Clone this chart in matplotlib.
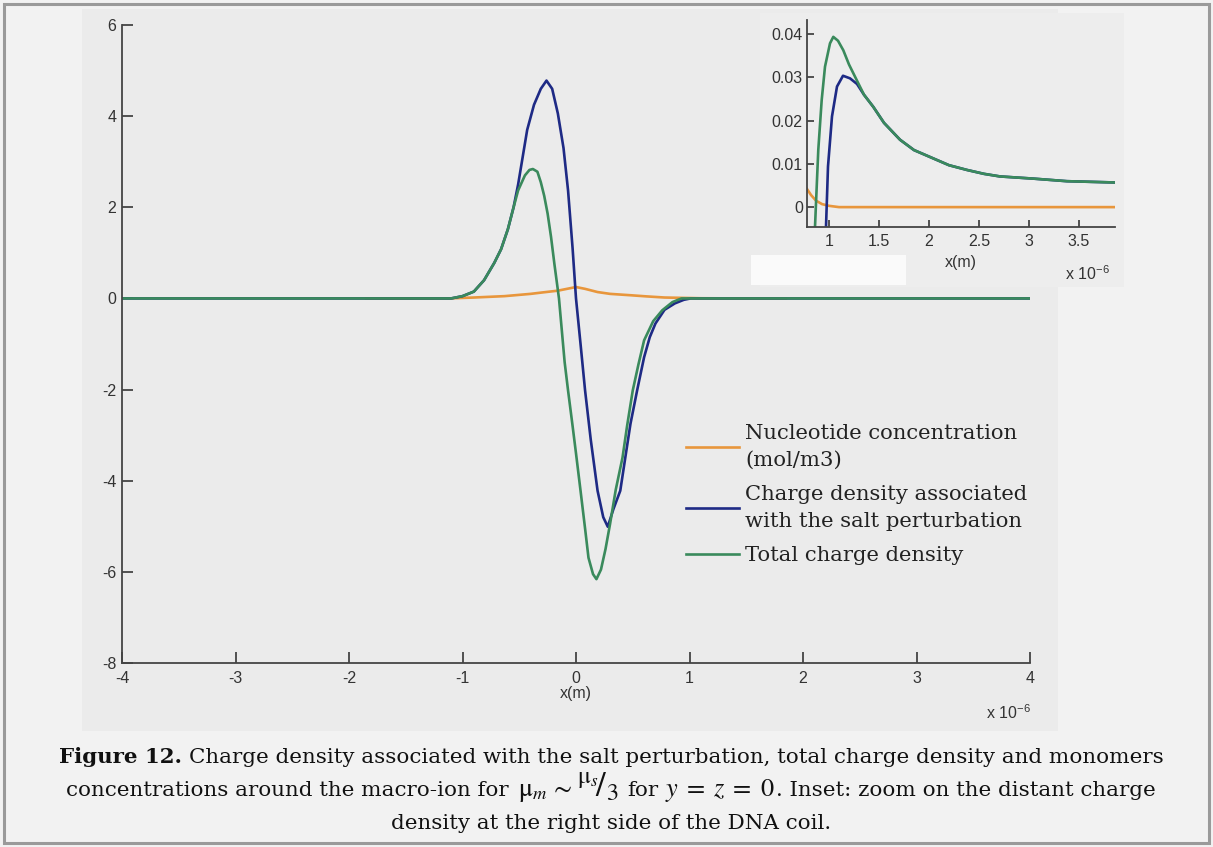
import matplotlib
matplotlib.use("Agg")
import matplotlib.pyplot as plt
from matplotlib.patches import Rectangle

plt.rcParams['axes.unicode_minus'] = False
plt.rcParams['mathtext.fontset'] = 'stix'

# main plot (x in units of 1e-6 m)
x_nuc = [-1.85, -1.5, -1.1, -0.9, -0.63, -0.4, -0.3, -0.16, -0.08, 0.0, 0.08,
         0.19, 0.3, 0.48, 0.62, 0.78, 1.1, 1.5, 1.85]
nuc = [0, 0, 0.002, 0.02, 0.05, 0.1, 0.13, 0.17, 0.21, 0.25, 0.21,
       0.14, 0.1, 0.07, 0.045, 0.02, 0.004, 0, 0]

x_salt = [-4, -1.1, -1.0, -0.9, -0.81, -0.72, -0.66, -0.6, -0.55, -0.51, -0.47,
          -0.43, -0.37, -0.31, -0.26, -0.21, -0.16, -0.11, -0.07, -0.03, 0.0,
          0.04, 0.08, 0.13, 0.19, 0.24, 0.28, 0.33, 0.39, 0.44, 0.48, 0.54,
          0.6, 0.65, 0.7, 0.78, 0.87, 0.95, 1.01, 4]
salt = [0, 0, 0.05, 0.15, 0.4, 0.78, 1.08, 1.52, 2.0, 2.5, 3.1,
        3.7, 4.25, 4.6, 4.78, 4.6, 4.06, 3.3, 2.37, 1.1, 0.0,
        -1.0, -2.02, -3.1, -4.22, -4.8, -5.01, -4.62, -4.22, -3.4, -2.75, -2.0,
        -1.29, -0.85, -0.55, -0.25, -0.11, -0.03, 0, 0]

x_tot = [-4, -1.1, -1.0, -0.9, -0.81, -0.72, -0.66, -0.6, -0.55, -0.51, -0.45,
         -0.41, -0.38, -0.34, -0.31, -0.28, -0.25, -0.22, -0.19, -0.15, -0.1,
         -0.07, -0.03, 0.0, 0.04, 0.08, 0.11, 0.15, 0.18, 0.22, 0.26, 0.3,
         0.35, 0.41, 0.45, 0.5, 0.55, 0.6, 0.68, 0.76, 0.85, 0.93, 4]
tot = [0, 0, 0.05, 0.15, 0.4, 0.78, 1.08, 1.52, 2.0, 2.37, 2.7,
       2.82, 2.84, 2.78, 2.55, 2.25, 1.86, 1.35, 0.75, 0.0, -1.4,
       -2.02, -2.8, -3.4, -4.22, -5.05, -5.69, -6.05, -6.16, -5.95, -5.5, -4.95,
       -4.2, -3.49, -2.8, -2.02, -1.45, -0.92, -0.5, -0.26, -0.08, 0.0, 0]

# inset
xi_nuc = [0.78, 0.82, 0.87, 0.93, 1.0, 1.1, 3.86]
yi_nuc = [0.0042, 0.0028, 0.0015, 0.0007, 0.0003, 0.0, 0.0]

xi_salt = [0.96, 0.97, 0.99, 1.03, 1.08, 1.14, 1.21, 1.28, 1.35, 1.443, 1.55,
           1.71, 1.85, 2.04, 2.2, 2.38, 2.55, 2.71, 3.04, 3.38, 3.86]
yi_salt = [-0.01, -0.0046, 0.0094, 0.021, 0.0279, 0.0304, 0.0298, 0.0285, 0.026,
           0.0232, 0.0195, 0.0156, 0.0132, 0.0113, 0.0097, 0.0086, 0.0077,
           0.0071, 0.0066, 0.006, 0.0057]

xi_tot = [0.85, 0.86, 0.877, 0.893, 0.927, 0.96, 1.01, 1.043, 1.09, 1.143, 1.2,
          1.277, 1.35, 1.443, 1.55, 1.71, 1.85, 2.04, 2.2, 2.38, 2.55, 2.71,
          3.04, 3.38, 3.86]
yi_tot = [-0.01, -0.0046, 0.0047, 0.0133, 0.0248, 0.0325, 0.0379, 0.0394, 0.0385,
          0.0363, 0.033, 0.0294, 0.026, 0.0232, 0.0195, 0.0156, 0.0132, 0.0113,
          0.0097, 0.0086, 0.0077, 0.0071, 0.0066, 0.006, 0.0057]

main_xticks = [-4, -3, -2, -1, 0, 1, 2, 3, 4]
main_yticks = [-8, -6, -4, -2, 0, 2, 4, 6]
inset_xticks = [1, 1.5, 2, 2.5, 3, 3.5]
inset_xlabels = ['1', '1.5', '2', '2.5', '3', '3.5']
inset_yticks = [0, 0.01, 0.02, 0.03, 0.04]
inset_ylabels = ['0', '0.01', '0.02', '0.03', '0.04']

labels = ['Nucleotide concentration\n(mol/m3)',
          'Charge density associated\nwith the salt perturbation',
          'Total charge density']
colors = ['#E8963C', '#1E2A85', '#3A8A5C']

W, H = 1213, 847
fig = plt.figure(figsize=(W / 100, H / 100), dpi=100, facecolor='#f2f2f2')

def box(x0, y0, x1, y1, **kw):
    # pixel box (top-left origin) -> figure rectangle
    fig.add_artist(Rectangle((x0 / W, 1 - y1 / H), (x1 - x0) / W, (y1 - y0) / H,
                             transform=fig.transFigure, **kw))

box(82, 9, 1058, 731, facecolor='#ebebeb', edgecolor='none', zorder=-3)
box(760, 13, 1124, 287, facecolor='#ededed', edgecolor='none', zorder=-2)
box(751, 255, 906, 285, facecolor='#fafafa', edgecolor='none', zorder=-1)
box(4, 4, 1209, 843, facecolor='none', edgecolor='#9a9a9a', lw=2.2, zorder=10)

tick_font = dict(family='Liberation Sans', size=11.5, color='#333333')

def style(a):
    a.set_facecolor('none')
    a.spines['top'].set_visible(False)
    a.spines['right'].set_visible(False)
    for s in ('left', 'bottom'):
        a.spines[s].set_color('#444444')
        a.spines[s].set_linewidth(1.3)
    a.tick_params(direction='in', color='#444444', width=1.3,
                  labelsize=11.5, labelcolor='#333333')
    for lab in a.get_xticklabels() + a.get_yticklabels():
        lab.set_family('Liberation Sans')

# main axes
ax = fig.add_axes([122 / W, 1 - 663 / H, 908 / W, 638 / H])
l_nuc, = ax.plot(x_nuc, nuc, color=colors[0], lw=1.9)
l_salt, = ax.plot(x_salt, salt, color=colors[1], lw=1.9)
l_tot, = ax.plot(x_tot, tot, color=colors[2], lw=1.9)
ax.set_xlim(-4, 4)
ax.set_ylim(-8, 6)
ax.set_xticks(main_xticks)
ax.set_yticks(main_yticks)
style(ax)
ax.tick_params(axis='both', length=8)
ax.tick_params(axis='x', pad=6)
ax.tick_params(axis='y', pad=4)
ax.set_xlabel('x(m)', fontdict=tick_font, labelpad=0)
fig.text(1031 / W, 1 - 712 / H, r'x 10$^{\mathregular{-6}}$', ha='right', va='center',
         **tick_font)

leg = ax.legend([l_nuc, l_salt, l_tot], labels, loc='upper left',
                bbox_to_anchor=(686 / W, 1 - 424 / H), bbox_transform=fig.transFigure,
                frameon=False, prop=dict(family='DejaVu Serif', size=15.2),
                handlelength=2.5, handletextpad=0.3, labelspacing=0.7,
                borderpad=0, borderaxespad=0)
for t in leg.get_texts():
    t.set_linespacing(1.55)
    t.set_color('#222222')

# inset axes
ax2 = fig.add_axes([807 / W, 1 - 227 / H, 308 / W, 207 / H])
ax2.plot(xi_nuc, yi_nuc, color=colors[0], lw=1.9)
ax2.plot(xi_salt, yi_salt, color=colors[1], lw=1.9)
ax2.plot(xi_tot, yi_tot, color=colors[2], lw=1.9)
ax2.set_xlim(0.78, 3.86)
ax2.set_ylim(-0.0046, 0.0433)
ax2.set_xticks(inset_xticks, inset_xlabels)
ax2.set_yticks(inset_yticks, inset_ylabels)
style(ax2)
ax2.tick_params(axis='both', length=5)
ax2.tick_params(axis='x', pad=5)
ax2.tick_params(axis='y', pad=3)
ax2.set_xlabel('x(m)', fontdict=tick_font, labelpad=4)
fig.text(1110 / W, 1 - 273 / H, r'x 10$^{\mathregular{-6}}$', ha='right', va='center',
         **tick_font)

# caption: pieces laid out side by side, centred on cx
r = fig.canvas.get_renderer()
cap = dict(family='DejaVu Serif', size=15.4, color='#111111', va='baseline')

def cap_line(pieces, base, cx=611):
    items = []
    for s, gap, kw in pieces:
        t = fig.text(0, 1 - base / H, s, **{**cap, **kw})
        items.append((t, t.get_window_extent(r).width, gap))
    total = sum(w + g for _, w, g in items)
    x = cx - total / 2
    for t, w, g in items:
        t.set_x(x / W)
        x += w + g

sp = 7
cap_line([('Figure 12.', sp, dict(fontweight='bold')),
          ('Charge density associated with the salt perturbation, '
           'total charge density and monomers', 0, {})], 763)
cap_line([('concentrations around the macro-ion for', sp + 2, {}),
          (r'$\mathrm{μ}_m\,\sim$', 4, dict(size=19)),
          (r'${}^{\mathrm{μ}_s}\!/_{3}$', sp + 2, dict(size=25)),
          ('for', sp, {}),
          (r'$y\;=\;z\;=\;0$', 1, dict(size=19)),
          ('. Inset: zoom on the distant charge', 0, {})], 796)
cap_line([('density at the right side of the DNA coil.', 0, {})], 829)

fig.savefig('out.png', dpi=100, facecolor=fig.get_facecolor())
